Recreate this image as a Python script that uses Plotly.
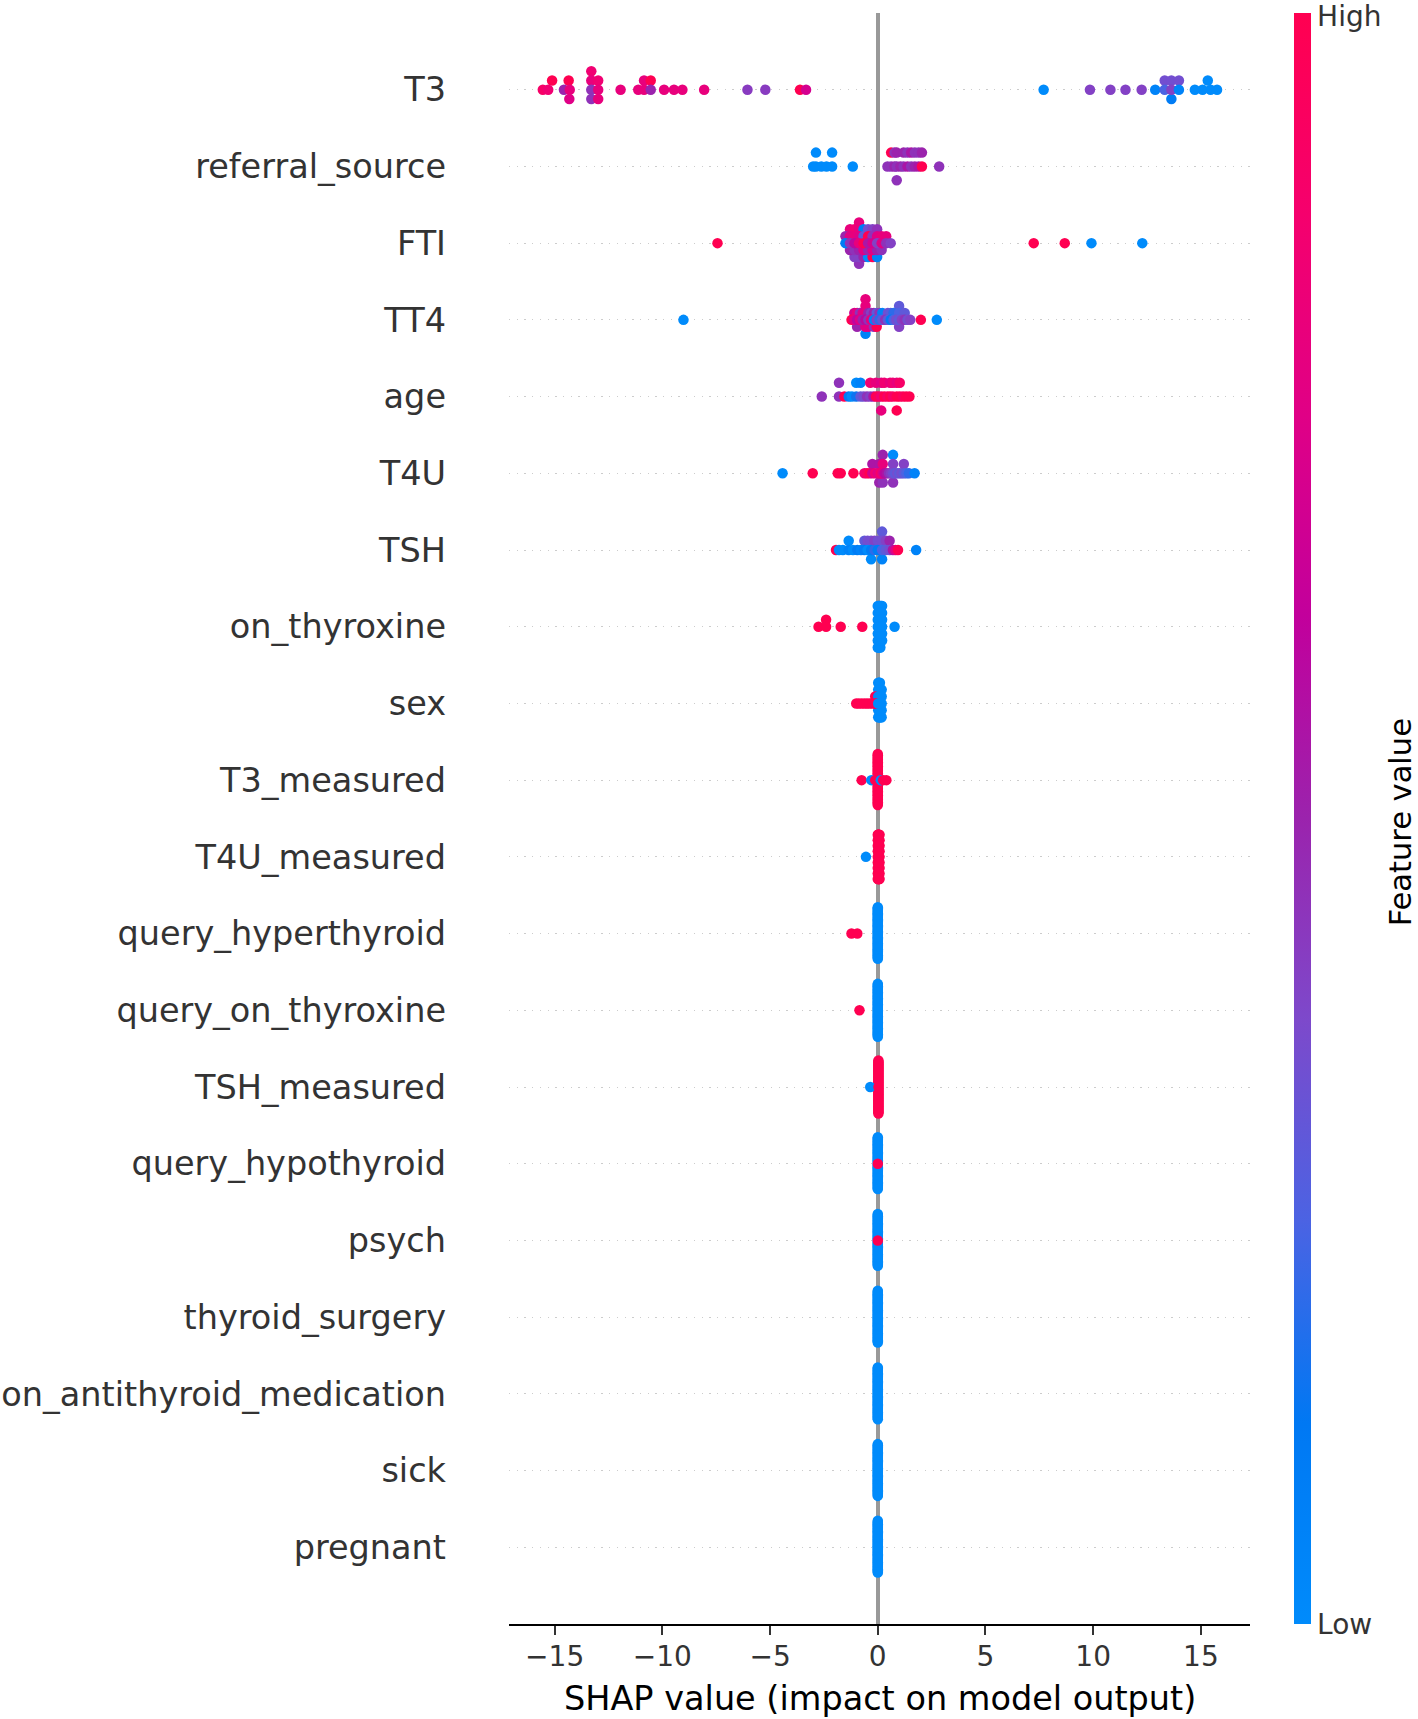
import numpy as np
import plotly.graph_objects as go

# Feature names, top (most important) to bottom
features = ["T3", "referral_source", "FTI", "TT4", "age", "T4U", "TSH",
            "on_thyroxine", "sex", "T3_measured", "T4U_measured",
            "query_hyperthyroid", "query_on_thyroxine", "TSH_measured",
            "query_hypothyroid", "psych", "thyroid_surgery",
            "on_antithyroid_medication", "sick", "pregnant"]

# Each entry: (SHAP value, [normalised feature values of the samples sharing it])
# feature value 0 = Low (blue) ... 1 = High (red)
shap_T3 = [(-15.55, [0.9]), (-15.3, [0.85]), (-15.12, [1.0]), (-14.57, [0.5]),
           (-14.3, [0.8]), (-14.35, [1.0]), (-14.32, [0.75]),
           (-13.3, [0.45, 0.8, 0.45, 0.85]), (-12.98, [0.8, 0.85, 0.8]),
           (-11.94, [0.8]), (-11.12, [0.8]), (-10.85, [0.8, 0.8]), (-10.54, [0.5, 1.0]),
           (-9.92, [0.8]), (-9.46, [0.8]), (-9.07, [0.8]), (-8.06, [0.8]),
           (-6.05, [0.42]), (-5.22, [0.42]), (-3.61, [1.0]), (-3.33, [0.7]),
           (7.7, [0.0]), (9.85, [0.4]), (10.8, [0.4]), (11.5, [0.4]), (12.25, [0.4]),
           (12.88, [0.05]), (13.32, [0.25, 0.35]), (13.63, [0.4, 0.35, 0.1]),
           (13.98, [0.05, 0.35]), (14.72, [0.0]), (15.08, [0.0]), (15.45, [0.0]),
           (15.32, [0.0]), (15.75, [0.0])]
shap_referral_source = [(-3.0, [0.0]), (-2.87, [0.0, 0.0]), (-2.62, [0.0]), (-2.38, [0.0]),
                        (-2.12, [0.0, 0.0]), (-1.16, [0.0]),
                        (0.45, [0.45]), (0.62, [0.45, 1.0]), (0.78, [0.5, 0.45]),
                        (0.88, [0.45, 0.5, 0.45]), (1.05, [0.5]), (1.2, [0.45, 0.5]),
                        (1.38, [0.55, 0.45]), (1.55, [0.45, 0.55]), (1.72, [0.5, 0.45]),
                        (1.9, [0.55, 0.45]), (2.05, [1.0, 0.5]), (2.85, [0.45])]
shap_FTI = [(-7.44, [1.0]), (7.24, [1.0]), (8.68, [1.0]), (9.92, [0.0]), (12.28, [0.0]),
            (-1.5, [0.1, 0.5]), (-1.29, [0.45, 0.75, 0.5, 0.8]),
            (-1.08, [0.6, 0.8, 0.45, 0.85, 0.4]),
            (-0.87, [0.8, 0.75, 0.5, 0.8, 0.4, 0.8, 0.45]),
            (-0.66, [1.0, 0.3, 0.75, 0.1, 0.5]), (-0.45, [0.55, 1.0, 0.5, 0.35, 0.0]),
            (-0.24, [0.7, 0.45, 0.75, 0.4, 1.0]), (-0.03, [0.4, 0.75, 0.5, 0.45, 0.05]),
            (0.18, [0.75, 0.8, 0.45]), (0.39, [0.45, 0.8]), (0.6, [0.4])]
shap_TT4 = [(-9.02, [0.0]), (-1.22, [1.0]), (-1.09, [0.75, 0.7]), (-0.96, [0.6, 0.8, 0.5]),
            (-0.83, [0.75, 0.45]), (-0.7, [0.5, 0.75]),
            (-0.57, [0.6, 0.8, 0.75, 0.8, 0.05, 0.8]), (-0.44, [0.45, 0.5, 0.75]),
            (-0.31, [0.8, 0.4]), (-0.18, [0.05, 0.5, 0.45]), (-0.05, [0.4, 0.3, 1.0]),
            (0.08, [0.2, 0.45]), (0.21, [0.3, 0.05]), (0.34, [0.45]), (0.47, [0.3, 0.35]),
            (0.6, [0.1, 0.3]), (0.73, [0.25, 0.2]), (0.86, [0.35]),
            (0.99, [0.3, 0.25, 0.4, 0.3]), (1.12, [0.4]), (1.25, [0.45, 0.3]),
            (1.38, [0.35]), (1.51, [0.4]), (2.0, [1.0]), (2.74, [0.0])]
shap_age = [(-2.6, [0.45]), (-1.8, [0.45, 0.45]), (-1.55, [1.0]), (-1.35, [0.1]),
            (-1.2, [0.0]), (-1.0, [0.15, 0.0]), (-0.8, [0.3, 0.05]), (-0.65, [0.35]),
            (-0.5, [0.45]), (-0.35, [0.4, 0.85]), (-0.2, [0.55]), (-0.08, [1.0, 0.8]),
            (0.03, [0.95]), (0.16, [0.85, 0.75, 0.8]), (0.3, [1.0, 0.85]), (0.45, [0.9]),
            (0.57, [1.0, 0.8]), (0.7, [0.9, 0.85]), (0.88, [1.0, 0.8, 1.0]),
            (1.02, [1.0, 0.9]), (1.17, [0.95]), (1.32, [1.0]), (1.47, [1.0])]
shap_T4U = [(-4.42, [0.0]), (-3.02, [1.0]), (-1.86, [1.0]), (-1.72, [1.0]), (-1.13, [1.0]),
            (-0.62, [0.85]), (-0.5, [0.9]), (-0.38, [1.0]), (-0.25, [0.7, 0.55]),
            (-0.12, [0.85]), (0.0, [0.75]), (0.07, [0.8, 0.55, 0.5]), (0.15, [0.9]),
            (0.23, [0.75, 0.8, 0.45, 0.5]), (0.32, [0.6]), (0.42, [0.55]), (0.52, [0.45]),
            (0.62, [0.4]), (0.71, [0.35, 0.4, 0.45, 0.0]), (0.8, [0.3]), (0.9, [0.35]),
            (1.0, [0.3]), (1.1, [0.35]), (1.21, [0.3, 0.4]), (1.33, [0.25]),
            (1.45, [0.2]), (1.71, [0.05])]
shap_TSH = [(-1.94, [1.0]), (-1.8, [0.0]), (-1.62, [0.0]), (-1.35, [0.05, 0.0]),
            (-1.15, [0.0]), (-0.95, [0.1]), (-0.78, [0.05]), (-0.62, [0.1, 0.3]),
            (-0.47, [0.0, 0.35]), (-0.31, [0.1, 0.35, 0.0]), (-0.15, [0.2, 0.4]),
            (0.0, [0.1, 0.35]), (0.2, [0.25, 0.35, 0.05, 0.3]), (0.38, [0.3, 0.4]),
            (0.55, [0.35, 0.5]), (0.7, [0.55]), (0.82, [0.75]), (0.94, [1.0]),
            (1.78, [0.05])]
shap_on_thyroxine = [(-2.75, [1.0]), (-2.4, [1.0, 1.0]), (-1.72, [1.0]), (-0.72, [1.0]),
                     (0.0, [0.0] * 7), (0.04, [0.0] * 7), (0.08, [0.0] * 7),
                     (0.12, [0.0] * 7), (0.16, [0.0] * 6), (0.2, [0.0] * 6),
                     (0.78, [0.0])]
shap_sex = [(-1.0, [1.0]), (-0.88, [1.0]), (-0.75, [1.0]), (-0.62, [1.0]), (-0.5, [1.0]),
            (-0.38, [1.0]), (-0.25, [1.0]), (-0.12, [1.0, 1.0]), (-0.05, [1.0]),
            (0.02, [0.0] * 6), (0.06, [0.0] * 6), (0.1, [0.0] * 6),
            (0.14, [0.0] * 5), (0.18, [0.0] * 5)]
shap_T3_measured = [(-0.75, [1.0]), (-0.3, [0.0]), (-0.12, [1.0]), (0.0, [1.0] * 38),
                    (0.14, [0.0]), (0.25, [1.0]), (0.4, [1.0])]
shap_T4U_measured = [(-0.55, [0.0]), (0.0, [1.0] * 9), (0.02, [1.0] * 9),
                     (0.04, [1.0] * 9), (0.06, [1.0] * 9), (0.08, [1.0] * 9)]
shap_query_hyperthyroid = [(-1.22, [1.0]), (-0.95, [1.0]), (0.0, [0.0] * 44)]
shap_query_on_thyroxine = [(-0.85, [1.0]), (0.0, [0.0] * 45)]
shap_TSH_measured = [(-0.35, [0.0]), (0.03, [1.0] * 45)]
shap_query_hypothyroid = [(0.0, [1.0] + [0.0] * 45)]
shap_psych = [(0.0, [1.0] + [0.0] * 45)]
shap_thyroid_surgery = [(0.0, [0.0] * 46)]
shap_on_antithyroid_medication = [(0.0, [0.0] * 46)]
shap_sick = [(0.0, [0.0] * 46)]
shap_pregnant = [(0.0, [0.0] * 46)]

rows = [shap_T3, shap_referral_source, shap_FTI, shap_TT4, shap_age, shap_T4U, shap_TSH,
        shap_on_thyroxine, shap_sex, shap_T3_measured, shap_T4U_measured,
        shap_query_hyperthyroid, shap_query_on_thyroxine, shap_TSH_measured,
        shap_query_hypothyroid, shap_psych, shap_thyroid_surgery,
        shap_on_antithyroid_medication, shap_sick, shap_pregnant]

x_ticks = [-15, -10, -5, 0, 5, 10, 15]

# SHAP "red_blue" colormap (LCH interpolation sampled)
red_blue = [[0.0, "rgb(0,139,251)"], [0.125, "rgb(0,120,243)"], [0.25, "rgb(75,99,227)"],
            [0.375, "rgb(125,73,203)"], [0.5, "rgb(155,35,173)"], [0.625, "rgb(194,0,156)"],
            [0.75, "rgb(224,0,134)"], [0.875, "rgb(245,0,109)"], [1.0, "rgb(255,0,81)"]]


def beeswarm(values, row_height=0.4, nbins=100):
    v = np.asarray(values, float)
    quant = np.round(nbins * (v - v.min()) / (v.max() - v.min() + 1e-8))
    order = np.argsort(quant, kind="stable")
    ys = np.zeros(len(v))
    layer, last = 0, None
    for i in order:
        if quant[i] != last:
            layer = 0
        ys[i] = np.ceil(layer / 2) * ((layer % 2) * 2 - 1)
        layer += 1
        last = quant[i]
    levels = ys.copy()
    ys = ys * 0.9 * (row_height / np.max(ys + 1))
    return ys, levels


xs, ys, cs = [], [], []
n = len(features)
for idx, groups in enumerate(rows):
    pos = n - 1 - idx
    vals = [g[0] for g in groups for _ in g[1]]
    cols = [c for g in groups for c in g[1]]
    off, lev = beeswarm(vals)
    draw = np.argsort(-np.abs(lev), kind="stable")
    for i in draw:
        xs.append(vals[i])
        ys.append(pos + off[i])
        cs.append(cols[i])

fig = go.Figure(go.Scatter(
    x=xs, y=ys, mode="markers", hoverinfo="skip",
    marker=dict(size=10.5, color=cs, colorscale=red_blue, cmin=0, cmax=1,
                line=dict(width=0), showscale=True,
                colorbar=dict(x=1.0594, xanchor="left", xpad=0, y=0.5, yanchor="middle",
                              ypad=0, len=1, lenmode="fraction", thickness=17,
                              outlinewidth=0, tickvals=[0, 0.998],
                              ticktext=["Low", "High"], ticks="",
                              ticklabeloverflow="allow",
                              tickfont=dict(size=28, color="#333333",
                                            family="DejaVu Sans")))))

fig.update_layout(
    width=1418, height=1719, template="none",
    margin=dict(l=509, r=168, t=13, b=95, pad=0),
    paper_bgcolor="white", plot_bgcolor="white",
    font=dict(family="DejaVu Sans", color="#333333"),
    showlegend=False,
    xaxis=dict(range=[-17.12, 17.28], tickvals=x_ticks,
               ticktext=[("\u2212" + str(-t)) if t < 0 else str(t) for t in x_ticks],
               ticks="outside", ticklen=9, tickwidth=2, tickcolor="#333333",
               tickfont=dict(size=28, color="#333333"), ticklabelstandoff=-3,
               showline=True, linecolor="black", linewidth=2, showgrid=False,
               zeroline=True, zerolinecolor="#999999", zerolinewidth=3.5,
               automargin=False),
    yaxis=dict(range=[-1, n], tickvals=list(range(n)), ticktext=features[::-1],
               showgrid=True, gridcolor="#cccccc", gridwidth=1.3, griddash="1.3px,6.4px",
               zeroline=False, showline=False, ticks="", ticklabelstandoff=62,
               tickfont=dict(size=33.5, color="#333333"), automargin=False),
    annotations=[
        dict(text="SHAP value (impact on model output)", xref="paper", yref="paper",
             x=0.5, y=-0.046, xanchor="center", yanchor="middle", showarrow=False,
             font=dict(size=33.5, color="black")),
        dict(text="Feature value", xref="paper", yref="paper", x=1.2024, y=0.4976,
             xanchor="center", yanchor="middle", textangle=-90, showarrow=False,
             font=dict(size=30.5, color="black")),
    ],
)

fig.write_html("out.html", config={"displayModeBar": False},
               post_script="document.body.style.margin='0px';")
